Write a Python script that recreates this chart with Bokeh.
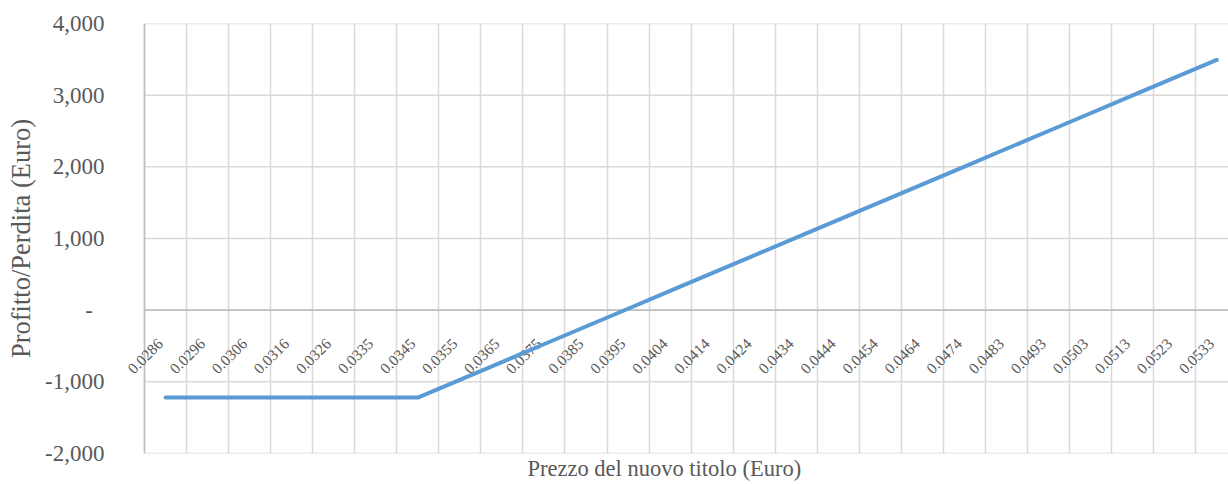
import math
from bokeh.plotting import figure
from bokeh.models import Range1d, FixedTicker, Title
from bokeh.core.properties import value
from bokeh.embed import file_html
from bokeh.resources import INLINE

# ---- data ----
prices = ["0.0286", "0.0296", "0.0306", "0.0316", "0.0326", "0.0335", "0.0345",
          "0.0355", "0.0365", "0.0375", "0.0385", "0.0395", "0.0404", "0.0414",
          "0.0424", "0.0434", "0.0444", "0.0454", "0.0464", "0.0474", "0.0483",
          "0.0493", "0.0503", "0.0513", "0.0523", "0.0533"]
profit = [-1220, -1220, -1220, -1220, -1220, -1220, -1220,
          -972, -724, -476, -228, 20, 268, 516, 764, 1012, 1260,
          1508, 1756, 2004, 2252, 2500, 2748, 2996, 3244, 3492]
y_ticks = [-2000, -1000, 0, 1000, 2000, 3000, 4000]
y_tick_labels = ["-2,000", "-1,000", "-\u00a0\u00a0", "1,000", "2,000", "3,000", "4,000"]
x_title = "Prezzo del nuovo titolo (Euro)"
y_title = "Profitto/Perdita (Euro)"

FONT = "Liberation Serif"
TXT = "#595959"
GRID = "#d9d9d9"
AXIS = "#bfbfbf"
LINE = "#5b9bd5"

n = len(prices)
xs = [i + 0.5 for i in range(n)]
x_lo, x_hi = 0, n  # category band edges

p = figure(width=1228, height=484, output_backend="svg", toolbar_location=None,
           x_range=Range1d(-0.571, 25.78), y_range=Range1d(-2000, 4000),
           min_border_left=120, min_border_right=0, min_border_top=23,
           min_border_bottom=31)
p.outline_line_color = None
p.background_fill_color = "white"

# y axis
p.yaxis.ticker = FixedTicker(ticks=y_ticks)
p.yaxis.major_label_overrides = {t: l for t, l in zip(y_ticks, y_tick_labels)}
p.yaxis.major_tick_line_color = None
p.yaxis.major_tick_out = 0
p.yaxis.major_tick_in = 0
p.yaxis.minor_tick_line_color = None
p.yaxis.axis_line_color = None
p.yaxis.major_label_standoff = 16
p.yaxis.major_label_text_font = FONT
p.yaxis.major_label_text_font_size = "23px"
p.yaxis.major_label_text_color = TXT
p.yaxis.axis_label = y_title
p.yaxis.axis_label_text_font = FONT
p.yaxis.axis_label_text_font_size = "26.5px"
p.yaxis.axis_label_text_font_style = "normal"
p.yaxis.axis_label_text_color = TXT
p.yaxis.axis_label_standoff = 6

# x axis hidden, title below
p.xaxis.visible = False
p.add_layout(Title(text=x_title, align="left", offset=407, standoff=0,
                   text_font=FONT, text_font_size="22.5px",
                   text_font_style="normal", text_color=TXT), "below")

# vertical grid at category boundaries
p.xgrid.ticker = FixedTicker(ticks=list(range(n + 1)))
p.xgrid.grid_line_color = GRID
p.xgrid.grid_line_width = 1.5
p.ygrid.visible = False

# horizontal grid lines limited to the category area
p.segment(x0=[x_lo] * len(y_ticks), x1=[x_hi] * len(y_ticks), y0=y_ticks, y1=y_ticks,
          line_color=GRID, line_width=1.5)
# left edge and zero line (axis lines)
p.segment(x0=[x_lo], x1=[x_lo], y0=[y_ticks[0]], y1=[y_ticks[-1]],
          line_color=AXIS, line_width=1.5)
p.segment(x0=[x_lo], x1=[x_hi], y0=[0], y1=[0], line_color=AXIS, line_width=1.8)

# category labels along the zero line
p.text(x=xs, y=[0] * n, text=prices, angle=math.pi / 4,
       text_align="right", text_baseline="middle",
       x_offset=-5, y_offset=31,
       text_font=value(FONT), text_font_size="15.5px", text_color=TXT)

p.line(x=xs, y=profit, line_color=LINE, line_width=4,
       line_cap="round", line_join="round")

open("out.html", "w").write(file_html(p, INLINE))
